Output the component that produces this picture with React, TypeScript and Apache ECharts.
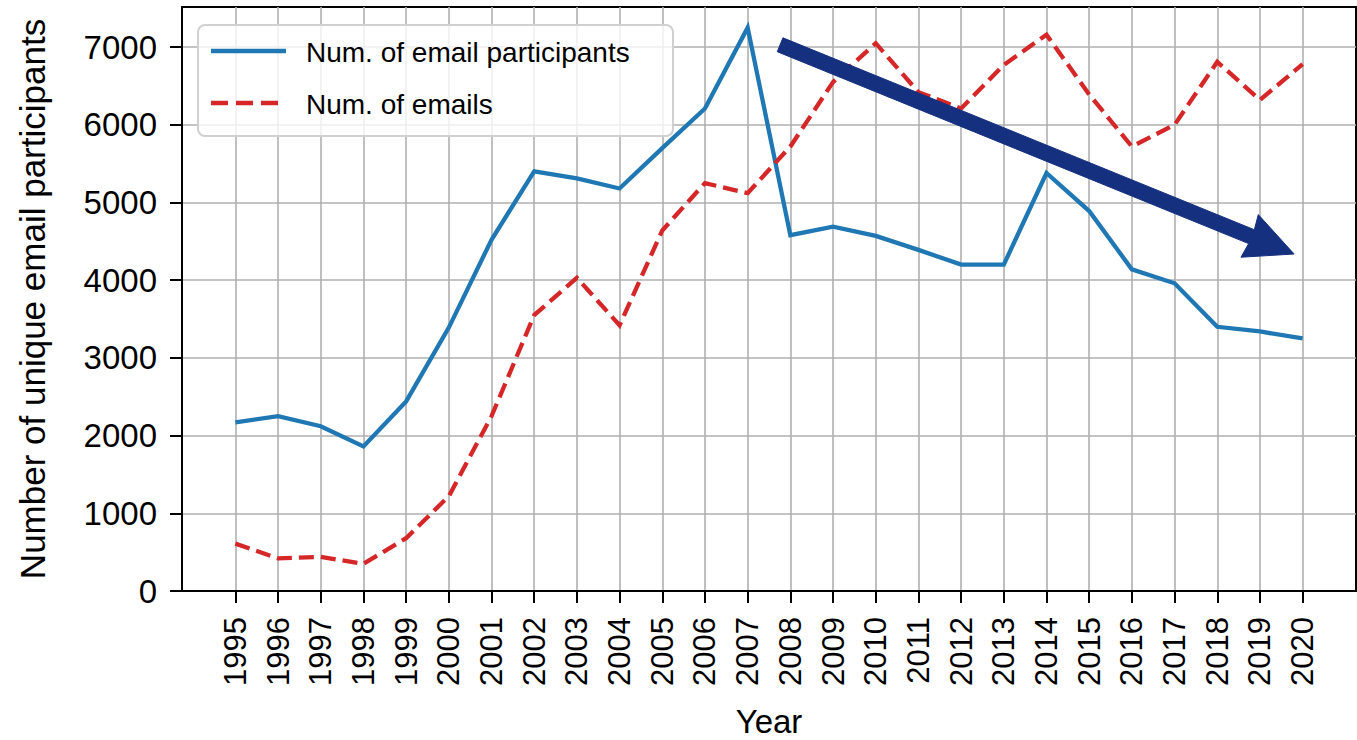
import React, { useEffect, useRef } from "react";
import * as echarts from "echarts";

const years = [1995, 1996, 1997, 1998, 1999, 2000, 2001, 2002, 2003, 2004, 2005, 2006, 2007, 2008, 2009, 2010, 2011, 2012, 2013, 2014, 2015, 2016, 2017, 2018, 2019, 2020];
const participants = [2170, 2250, 2120, 1860, 2440, 3390, 4520, 5400, 5310, 5180, 5700, 6210, 7250, 4580, 4690, 4570, 4390, 4200, 4200, 5380, 4890, 4140, 3960, 3400, 3340, 3250];
const emails = [610, 420, 440, 350, 680, 1220, 2250, 3550, 4030, 3420, 4640, 5250, 5120, 5720, 6550, 7050, 6420, 6210, 6770, 7160, 6390, 5720, 6000, 6810, 6320, 6780];
const yTicks = [0, 1000, 2000, 3000, 4000, 5000, 6000, 7000];
const seriesNames = ["Num. of email participants", "Num. of emails"];
// trend arrow annotation in data coordinates: [year, value]
const arrowStart = [2007.76, 7030];
const arrowTip = [2019.8, 4337];

const FONT = "'Liberation Sans', Arial, Helvetica, sans-serif";
const BLUE = "#1f77b4";
const RED = "#d62728";
const NAVY = "#15307f";

export default function App() {
  const ref = useRef<HTMLDivElement>(null);
  useEffect(() => {
    if (!ref.current) return;
    const chart = echarts.init(ref.current, null, { renderer: "svg" });
    const option: any = {
      animation: false,
      backgroundColor: "#ffffff",
      textStyle: { fontFamily: FONT, color: "#000" },
      grid: {
        left: 182,
        right: 1,
        top: 7,
        bottom: 149,
        containLabel: false,
        outerBoundsMode: "none",
        show: true,
        borderColor: "#000",
        borderWidth: 2,
        backgroundColor: "transparent",
      },
      xAxis: {
        type: "value",
        min: 1993.75,
        max: 2021.25,
        name: "Year",
        nameLocation: "middle",
        nameGap: 114,
        nameTextStyle: { fontSize: 33, color: "#000", fontFamily: FONT },
        axisLine: { show: true, lineStyle: { color: "#000", width: 2 } },
        axisTick: { show: true, length: 12, lineStyle: { color: "#000", width: 2 }, customValues: years },
        axisLabel: {
          customValues: years,
          rotate: 90,
          margin: 26,
          fontSize: 31,
          color: "#000",
          fontFamily: FONT,
          formatter: (v: number) => String(v),
        },
        splitLine: { show: true, lineStyle: { color: "#b0b0b0", width: 1.6 } },
      },
      yAxis: {
        type: "value",
        min: 0,
        max: 7516,
        name: "Number of unique email participants",
        nameLocation: "middle",
        nameGap: 132,
        nameTextStyle: { fontSize: 35, color: "#000", fontFamily: FONT },
        axisLine: { show: true, lineStyle: { color: "#000", width: 2 } },
        axisTick: { show: true, length: 12, lineStyle: { color: "#000", width: 2 }, customValues: yTicks },
        axisLabel: {
          customValues: yTicks,
          margin: 25,
          fontSize: 33,
          color: "#000",
          fontFamily: FONT,
          formatter: (v: number) => String(v),
        },
        splitLine: { show: true, lineStyle: { color: "#b0b0b0", width: 1.6 } },
      },
      series: [
        {
          name: seriesNames[0],
          type: "line",
          symbol: "none",
          data: years.map((y, i) => [y, participants[i]]),
          lineStyle: { color: BLUE, width: 4.3, cap: "butt", join: "miter" },
          itemStyle: { color: BLUE },
          z: 3,
        },
        {
          name: seriesNames[1],
          type: "line",
          symbol: "none",
          data: years.map((y, i) => [y, emails[i]]),
          lineStyle: { color: RED, width: 4.3, type: [15, 7], cap: "butt", join: "miter" },
          itemStyle: { color: RED },
          z: 4,
        },
      ],
    };
    chart.setOption(option);

    const s = chart.convertToPixel({ gridIndex: 0 }, arrowStart) as number[];
    const t = chart.convertToPixel({ gridIndex: 0 }, arrowTip) as number[];
    const dx = t[0] - s[0];
    const dy = t[1] - s[1];
    const len = Math.sqrt(dx * dx + dy * dy);
    const ux = dx / len;
    const uy = dy / len;
    const nx = -uy;
    const ny = ux;
    const headLen = 48;
    const headHalf = 23;
    const shaftHalf = 7.5;
    const bx = t[0] - ux * headLen;
    const by = t[1] - uy * headLen;
    const arrowPoints = [
      [s[0] + nx * shaftHalf, s[1] + ny * shaftHalf],
      [bx + ux * 2 + nx * shaftHalf, by + uy * 2 + ny * shaftHalf],
      [bx + nx * headHalf, by + ny * headHalf],
      [t[0], t[1]],
      [bx - nx * headHalf, by - ny * headHalf],
      [bx + ux * 2 - nx * shaftHalf, by + uy * 2 - ny * shaftHalf],
      [s[0] - nx * shaftHalf, s[1] - ny * shaftHalf],
    ];

    chart.setOption({
      graphic: [
        {
          type: "polygon",
          z: 50,
          shape: { points: arrowPoints },
          style: { fill: NAVY, stroke: NAVY, lineWidth: 1 },
        },
        {
          type: "group",
          z: 100,
          children: [
            {
              type: "rect",
              shape: { x: 198, y: 25, width: 475, height: 111, r: 7 },
              style: { fill: "rgba(255,255,255,0.8)", stroke: "#d0d0d0", lineWidth: 2 },
            },
            {
              type: "line",
              shape: { x1: 211, y1: 51, x2: 286, y2: 51 },
              style: { stroke: BLUE, lineWidth: 4.3 },
            },
            {
              type: "line",
              shape: { x1: 211, y1: 103, x2: 286, y2: 103 },
              style: { stroke: RED, lineWidth: 4.3, lineDash: [17, 8] },
            },
            {
              type: "text",
              x: 306,
              y: 52,
              style: { text: seriesNames[0], fontSize: 28, fontFamily: FONT, fill: "#000", verticalAlign: "middle", align: "left" },
            },
            {
              type: "text",
              x: 306,
              y: 104,
              style: { text: seriesNames[1], fontSize: 28, fontFamily: FONT, fill: "#000", verticalAlign: "middle", align: "left" },
            },
          ],
        },
      ],
    });

    return () => chart.dispose();
  }, []);
  return (
    <div
      ref={ref}
      style={{ position: "fixed", left: 0, top: 0, width: 1357, height: 740, background: "#fff" }}
    />
  );
}
